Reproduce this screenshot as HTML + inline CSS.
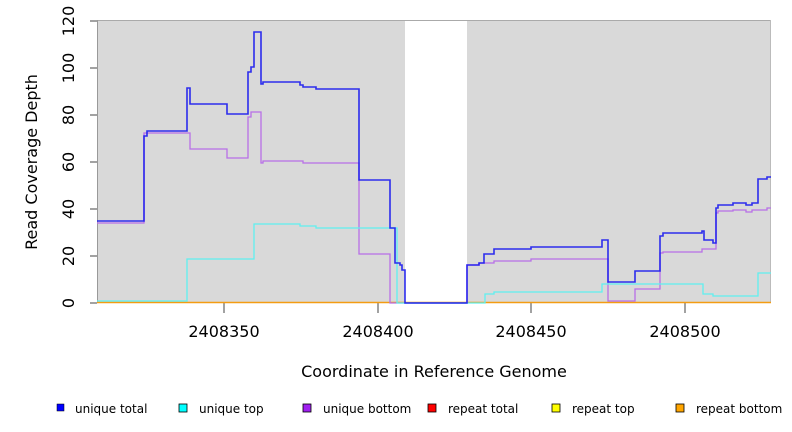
<!DOCTYPE html>
<html><head><meta charset="utf-8"><style>body{margin:0;background:#fff}svg{display:block;font-family:"DejaVu Sans","Liberation Sans",sans-serif}</style></head><body>
<svg width="792" height="432" viewBox="0 0 792 432">
<rect x="97" y="20" width="308" height="283" fill="#d9d9d9"/>
<rect x="467" y="20" width="304" height="283" fill="#d9d9d9"/>
<line x1="97" y1="20.5" x2="771" y2="20.5" stroke="#aaa"/>
<line x1="770.5" y1="20" x2="770.5" y2="303" stroke="#bbb"/>
<line x1="97.5" y1="20" x2="97.5" y2="303" stroke="#999"/>
<g stroke="#444" stroke-width="1">
<line x1="90" y1="303" x2="97" y2="303"/><line x1="90" y1="256" x2="97" y2="256"/><line x1="90" y1="209" x2="97" y2="209"/><line x1="90" y1="162" x2="97" y2="162"/><line x1="90" y1="115" x2="97" y2="115"/><line x1="90" y1="68" x2="97" y2="68"/><line x1="90" y1="21" x2="97" y2="21"/>
<line x1="224" y1="303" x2="224" y2="313"/><line x1="378" y1="303" x2="378" y2="313"/><line x1="531" y1="303" x2="531" y2="313"/><line x1="685" y1="303" x2="685" y2="313"/>
</g>
<g font-size="16" fill="#000" text-anchor="middle">
<text transform="translate(74,303) rotate(-90)">0</text>
<text transform="translate(74,256) rotate(-90)">20</text>
<text transform="translate(74,209) rotate(-90)">40</text>
<text transform="translate(74,162) rotate(-90)">60</text>
<text transform="translate(74,115) rotate(-90)">80</text>
<text transform="translate(74,68) rotate(-90)">100</text>
<text transform="translate(74,21) rotate(-90)">120</text>
<text x="224" y="337">2408350</text><text x="378" y="337">2408400</text><text x="531" y="337">2408450</text><text x="685" y="337">2408500</text>
<text x="434" y="377">Coordinate in Reference Genome</text>
<text transform="translate(37,162) rotate(-90)">Read Coverage Depth</text>
</g>
<line x1="97" y1="302.5" x2="771" y2="302.5" stroke="#f39c12" stroke-width="1.5"/>
<polyline fill="none" stroke="#b86fe8" stroke-width="1.3" points="97,223 144,223 144,133 190,133 190,149 227,149 227,158 248,158 248,117 251,117 251,112 261,112 261,163 263,163 263,161 303,161 303,163 359,163 359,254 390,254 390,303 467,303 467,265 479,265 479,263 494,263 494,261 531,261 531,259 608,259 608,301 635,301 635,289 660,289 660,253 663,253 663,252 702,252 702,249 716,249 716,213 718,213 718,211 733,211 733,210 746,210 746,212 752,212 752,210 767,210 767,208 771,208"/>
<polyline fill="none" stroke="#5ff0f0" stroke-width="1.3" points="97,301 187,301 187,259 254,259 254,224 300,224 300,226 316,226 316,228 397,228 397,303 485,303 485,294 494,294 494,292 602,292 602,284 703,284 703,294 713,294 713,296 758,296 758,273 771,273"/>
<polyline fill="none" stroke="#1a1aee" stroke-width="1.6" opacity="0.9" points="97,221 144,221 144,136 147,136 147,131 187,131 187,88 190,88 190,104 227,104 227,114 248,114 248,72 251,72 251,67 254,67 254,32 261,32 261,84 263,84 263,82 300,82 300,85 303,85 303,87 316,87 316,89 359,89 359,180 390,180 390,228 395,228 395,263 400,263 400,265 402,265 402,270 405,270 405,303 467,303 467,265 479,265 479,263 484,263 484,254 494,254 494,249 531,249 531,247 602,247 602,240 608,240 608,282 635,282 635,271 660,271 660,236 663,236 663,233 702,233 702,231 704,231 704,240 713,240 713,243 716,243 716,208 718,208 718,205 733,205 733,203 746,203 746,205 752,205 752,203 758,203 758,179 767,179 767,177 771,177"/>
<g font-size="12" fill="#000">
<rect x="57" y="404" width="7" height="7" fill="#0000ff" stroke="#000" stroke-width="0.5"/><text x="75" y="413">unique total</text>
<rect x="179" y="404" width="8" height="8" fill="#00ffff" stroke="#000" stroke-width="0.8"/><text x="199" y="413">unique top</text>
<rect x="303" y="404" width="8" height="8" fill="#a020f0" stroke="#000" stroke-width="0.8"/><text x="323" y="413">unique bottom</text>
<rect x="428" y="404" width="8" height="8" fill="#ff0000" stroke="#000" stroke-width="0.8"/><text x="448" y="413">repeat total</text>
<rect x="552" y="404" width="8" height="8" fill="#ffff00" stroke="#000" stroke-width="0.8"/><text x="572" y="413">repeat top</text>
<rect x="676" y="404" width="8" height="8" fill="#ffa500" stroke="#000" stroke-width="0.8"/><text x="696" y="413">repeat bottom</text>
</g>
</svg>
</body></html>
